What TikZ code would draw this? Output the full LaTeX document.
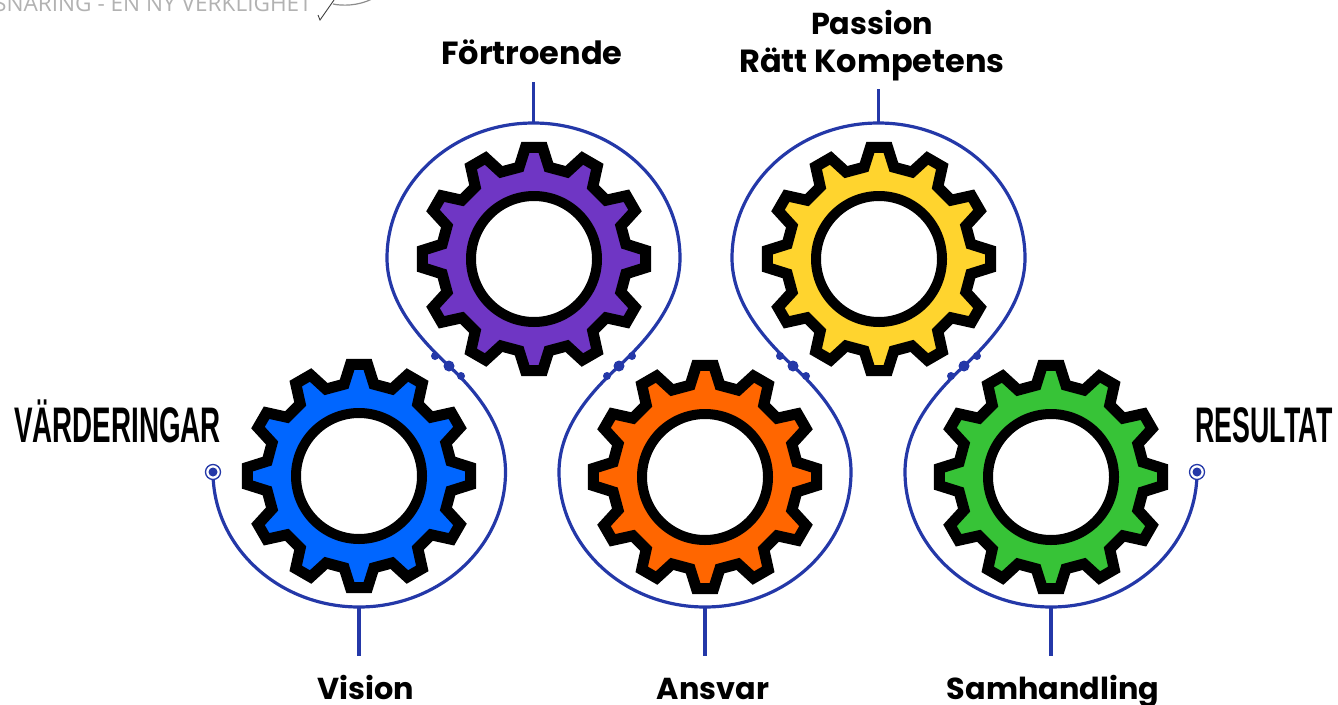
\documentclass[tikz,border=0pt]{standalone}
\usepackage{fontspec}
\setmainfont{Poppins}
\newfontfamily\condfont{Liberation Sans}
\newfontfamily\grayfont{Open Sans}
\definecolor{wire}{HTML}{2438A8}
\definecolor{gblue}{HTML}{0066FF}
\definecolor{gpurple}{HTML}{6F36C4}
\definecolor{gyellow}{HTML}{FFD42E}
\definecolor{gorange}{HTML}{FF6600}
\definecolor{ggreen}{HTML}{37C337}
\tikzset{
  x=1pt,y=-1pt,
  wireline/.style={draw=wire,line width=3.2pt},
  hub/.style={circle,draw=black,fill=white,line width=10pt,minimum size=126pt,inner sep=0pt,outer sep=0pt},
  tagtext/.style={font=\fontsize{32}{38}\selectfont\bfseries,align=center,inner sep=0pt,text=black},
  lowtext/.style={font=\fontsize{30.3}{38}\selectfont\bfseries,align=center,inner sep=0pt,text=black},
  condtext/.style={font=\fontsize{50}{54}\selectfont\condfont\bfseries,inner sep=0pt,text=black},
  bigdot/.style={circle,fill=wire,minimum size=11pt,inner sep=0pt},
  smalldot/.style={circle,fill=wire,minimum size=8pt,inner sep=0pt},
  endring/.style={circle,draw=wire,fill=white,line width=1.3pt,minimum size=15pt,inner sep=0pt},
  enddot/.style={circle,fill=wire,minimum size=9pt,inner sep=0pt},
  pics/gearwheel/.style={code={
    \draw[black,fill=#1,line width=11pt,miter limit=8,line join=miter]
      (-9.2:93)
      \foreach \k in {0,30,...,330}{
        -- ({\k-9.2}:93) -- ({\k-4.4}:112) -- ({\k+4.4}:112) -- ({\k+9.2}:93)
      } -- cycle;
  }}
}
\begin{document}
\begin{tikzpicture}
\useasboundingbox (0,0) rectangle (1338,704);
\clip (0,0) rectangle (1338,704);
% header fragment
\node[anchor=base east,inner sep=0pt,text=black!30,font=\fontsize{22.6}{26}\selectfont\grayfont] (header) at (312,12) {SNARING - EN NY VERKLIGHET};
\coordinate (sigA) at (318,15);
\coordinate (sigB) at (320,20);
\coordinate (sigC) at (334,0);
\draw[black!75,line width=0.9pt] (sigA) -- (sigB) -- (sigC);
\draw[black!45,line width=1.2pt] (333,4) .. controls (342,6) and (358,6) .. (372,-1);
% gears
\pic at (359,476) {gearwheel=gblue};
\pic at (534,259) {gearwheel=gpurple};
\pic at (705,477) {gearwheel=gorange};
\pic at (879,259) {gearwheel=gyellow};
\pic at (1051,477) {gearwheel=ggreen};
\node[hub] (hubBlue) at (359,476) {};
\node[hub] (hubPurple) at (534,259) {};
\node[hub] (hubOrange) at (705,477) {};
\node[hub] (hubYellow) at (879,259) {};
\node[hub] (hubGreen) at (1051,477) {};
% winding line
\coordinate (startEnd) at (213,472);
\coordinate (stopEnd) at (1197,472);
\coordinate (J1) at (449,366);
\coordinate (J2) at (619,366);
\coordinate (J3) at (793,366);
\coordinate (J4) at (964,366);
\coordinate (topP) at (533.5,123);
\coordinate (topY) at (878.5,123);
\coordinate (botB) at (359,607);
\coordinate (botO) at (705,607);
\coordinate (botG) at (1051,607);
\draw[wireline]
  (startEnd) .. controls (213,546.5) and (278.4,607) .. (botB)
  .. controls (439.6,607) and (505.5,546.5) .. (505.5,472)
  .. controls (505.5,427) and (477,392) .. (J1)
  .. controls (421,340) and (387,303) .. (387,258)
  .. controls (387,183.5) and (452.5,123) .. (topP)
  .. controls (614.5,123) and (680,183.5) .. (680,258)
  .. controls (680,303) and (647,340) .. (J2)
  .. controls (591,392) and (559,427) .. (559,472)
  .. controls (559,546.5) and (624.4,607) .. (botO)
  .. controls (785.6,607) and (851,546.5) .. (851,472)
  .. controls (851,427) and (821,392) .. (J3)
  .. controls (765,340) and (732,303) .. (732,258)
  .. controls (732,183.5) and (797.5,123) .. (topY)
  .. controls (959.5,123) and (1025,183.5) .. (1025,258)
  .. controls (1025,303) and (992,340) .. (J4)
  .. controls (936,392) and (905,427) .. (905,472)
  .. controls (905,546.5) and (970.4,607) .. (botG)
  .. controls (1131.6,607) and (1197,546.5) .. (stopEnd);
% junction beads
\node[bigdot] (b1) at (J1) {};
\node[smalldot] (b1a) at (435,356) {};
\node[smalldot] (b1b) at (461,376) {};
\node[bigdot] (b2) at (J2) {};
\node[smalldot] (b2a) at (632,356) {};
\node[smalldot] (b2b) at (607,376) {};
\node[bigdot] (b3) at (J3) {};
\node[smalldot] (b3a) at (780,356) {};
\node[smalldot] (b3b) at (806,376) {};
\node[bigdot] (b4) at (J4) {};
\node[smalldot] (b4a) at (977,356) {};
\node[smalldot] (b4b) at (951,376) {};
% ends
\node[endring] (endL) at (startEnd) {};
\node[enddot] (endLd) at (startEnd) {};
\node[endring] (endR) at (stopEnd) {};
\node[enddot] (endRd) at (stopEnd) {};
% labels
\node[tagtext,anchor=base] (lF) at (532,64) {Förtroende};
\node[lowtext,anchor=base] (lP1) at (872,34) {Passion};
\node[tagtext,anchor=base] (lP2) at (872,72) {Rätt Kompetens};
\node[lowtext,anchor=base] (lV) at (366,699) {Vision};
\node[lowtext,anchor=base] (lA) at (713,699) {Ansvar};
\node[lowtext,anchor=base] (lS) at (1053,699) {Samhandling};
\node[condtext,anchor=base] (lW) at (117.5,442) {\scalebox{0.555}[1]{VÄRDERINGAR}};
\node[condtext,anchor=base] (lR) at (1264,442) {\scalebox{0.535}[1]{RESULTAT}};
% stems
\coordinate (sF) at (533.5,82);
\coordinate (sP) at (878.5,89);
\coordinate (sV) at (359,656);
\coordinate (sA) at (705,656);
\coordinate (sS) at (1051,656);
\draw[wireline] (sF) -- (topP);
\draw[wireline] (sP) -- (topY);
\draw[wireline] (botB) -- (sV);
\draw[wireline] (botO) -- (sA);
\draw[wireline] (botG) -- (sS);
\end{tikzpicture}
\end{document}
